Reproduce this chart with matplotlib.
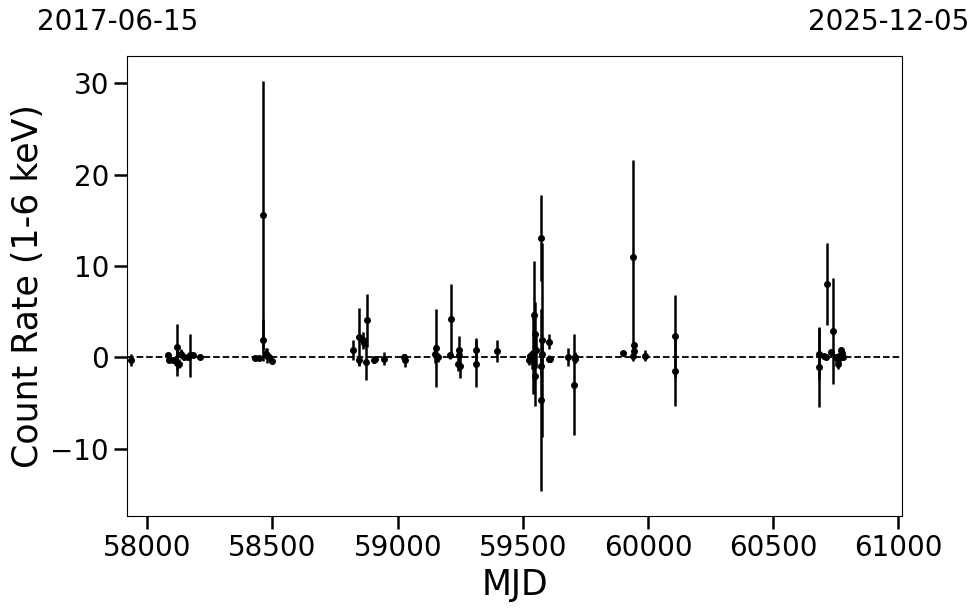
import matplotlib
matplotlib.use("Agg")
import matplotlib.pyplot as plt

# light curve values (MJD, count rate, 1-sigma error)
mjd = [57935, 58081, 58088, 58101, 58117, 58120, 58125, 58134, 58148, 58161,
       58170, 58184, 58212, 58431, 58445, 58463, 58463, 58474, 58480, 58487,
       58497, 58820, 58847, 58847, 58863, 58867, 58879, 58874, 58907, 58910,
       58947, 59027, 59031, 59153, 59151, 59160, 59213, 59209, 59244, 59246,
       59240, 59249, 59313, 59313, 59396, 59523, 59530, 59535, 59540, 59545,
       59547, 59550, 59552, 59573, 59574, 59575, 59575, 59573, 59606, 59606,
       59609, 59679, 59706, 59707, 59710, 59899, 59939, 59943, 59943, 59939,
       59986, 60109, 60109, 60682, 60682, 60714, 60703, 60709, 60730, 60740,
       60751, 60757, 60758, 60763, 60771, 60775, 60778]
rate = [-0.3, 0.2, -0.25, -0.25, 1.1, -0.6, -0.7, 0.4, 0.0, 0.0,
        0.2, 0.2, 0.0, -0.05, -0.05, 1.9, 15.6, 0.4, 0.2, 0.0,
        -0.45, 0.77, 2.2, -0.3, 1.86, 1.6, 4.05, -0.5, -0.25, -0.2,
        -0.15, 0.0, -0.35, 1.0, 0.4, 0.0, 4.16, 0.2, 0.77, 0.2,
        -0.7, -1.0, 0.8, -0.7, 0.7, -0.3, 0.1, -0.3, 0.5, 4.6,
        2.6, -2.0, 0.8, 13.1, -4.7, 1.9, 0.4, -0.9, 1.7, -0.15,
        -0.2, 0.05, -3.0, 0.0, -0.15, 0.5, 11.0, 1.3, 0.7, 0.15,
        0.15, 2.3, -1.5, 0.4, -1.1, 8.0, 0.1, 0.0, 0.58, 2.9,
        0.0, -0.25, -0.7, 0.1, 0.77, 0.5, 0.0]
err = [0.7, 0.3, 0.3, 0.3, 2.5, 1.5, 0.5, 0.5, 0.3, 0.3,
       2.4, 0.3, 0.2, 0.2, 0.2, 2.3, 14.7, 0.6, 0.8, 0.3,
       0.3, 1.1, 3.2, 0.5, 0.9, 0.5, 2.9, 2.0, 0.4, 0.3,
       0.7, 0.4, 0.7, 4.3, 1.0, 0.5, 3.85, 0.4, 1.6, 0.8,
       0.8, 1.3, 1.3, 2.6, 1.2, 0.5, 0.5, 1.0, 4.5, 6.0,
       3.5, 3.3, 2.0, 4.7, 10.0, 10.6, 1.2, 1.0, 0.8, 0.4,
       0.3, 1.0, 5.5, 0.6, 0.5, 0.2, 10.6, 0.4, 0.4, 0.6,
       0.6, 4.5, 3.8, 2.9, 4.3, 4.5, 0.3, 0.3, 0.3, 5.8,
       0.4, 0.3, 0.6, 0.3, 0.3, 0.3, 0.3]

start_mjd, end_mjd = 57919, 61014
start_date, end_date = "2017-06-15", "2025-12-05"

fig = plt.figure(figsize=(9.8, 6.13), dpi=100)
ax = fig.add_axes([0.1296, 0.158, 0.7908, 0.7506])

ax.errorbar(mjd, rate, yerr=err, fmt="o", color="black", ms=4,
            elinewidth=1.8, capsize=0)
ax.axhline(0, color="black", ls="--", lw=1.3)

ax.set_xlim(start_mjd, end_mjd)
ax.set_ylim(-17.4, 33.0)
ax.set_xticks([58000, 58500, 59000, 59500, 60000, 60500, 61000])
ax.set_yticks([-10, 0, 10, 20, 30])
ax.tick_params(axis="both", labelsize=20, length=9.5, width=1.8)

ax.set_xlabel("MJD", fontsize=25)
ax.set_ylabel("Count Rate (1-6 keV)", fontsize=25)

# calendar dates of the x limits above the plot
ax.text(-0.0116, 1.074, start_date, transform=ax.transAxes, ha="center",
        va="center", fontsize=20)
ax.text(0.983, 1.074, end_date, transform=ax.transAxes, ha="center",
        va="center", fontsize=20)

fig.savefig("out.png", dpi=100)
